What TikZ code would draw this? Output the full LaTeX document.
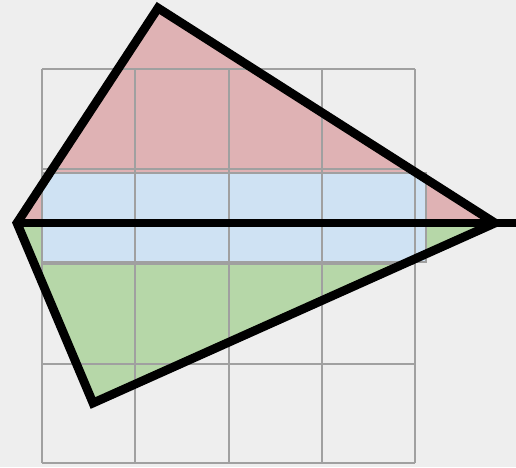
\documentclass[tikz,border=0pt]{standalone}
\usepackage{tikz}
\definecolor{bgc}{RGB}{238,238,238}
\definecolor{redfill}{RGB}{223,178,180}
\definecolor{greenfill}{RGB}{182,215,168}
\definecolor{bluefill}{RGB}{207,226,243}
\definecolor{gridgray}{RGB}{160,160,160}
\begin{document}
\begin{tikzpicture}[x=0.02cm,y=-0.02cm]
\tikzstyle{gridline}=[gridgray, line width=1.1pt]
\tikzstyle{outline}=[black, line width=5pt]
\fill [bgc] (0,0) rectangle (516,467);
\useasboundingbox (0,0) rectangle (516,467);
\coordinate (top) at (158,8);
\coordinate (left) at (17,223);
\coordinate (bottom) at (93,403);
\coordinate (tip) at (495,223);
\coordinate (rim) at (516,223);
\fill [redfill] (top) -- (left) -- (tip) -- cycle;
\fill [greenfill] (left) -- (bottom) -- (tip) -- cycle;
\draw [gridline, fill=bluefill] (42,173) rectangle (426,262);
\foreach \x in {42,135,229,322,415}
  \draw [gridline] (\x,69) -- (\x,463);
\foreach \y in {69,169,264,364,463}
  \draw [gridline] (42,\y) -- (415,\y);
\draw [outline] (top) -- (left) -- (bottom) -- (tip) -- cycle;
\draw [outline] (left) -- (rim);
\end{tikzpicture}
\end{document}
